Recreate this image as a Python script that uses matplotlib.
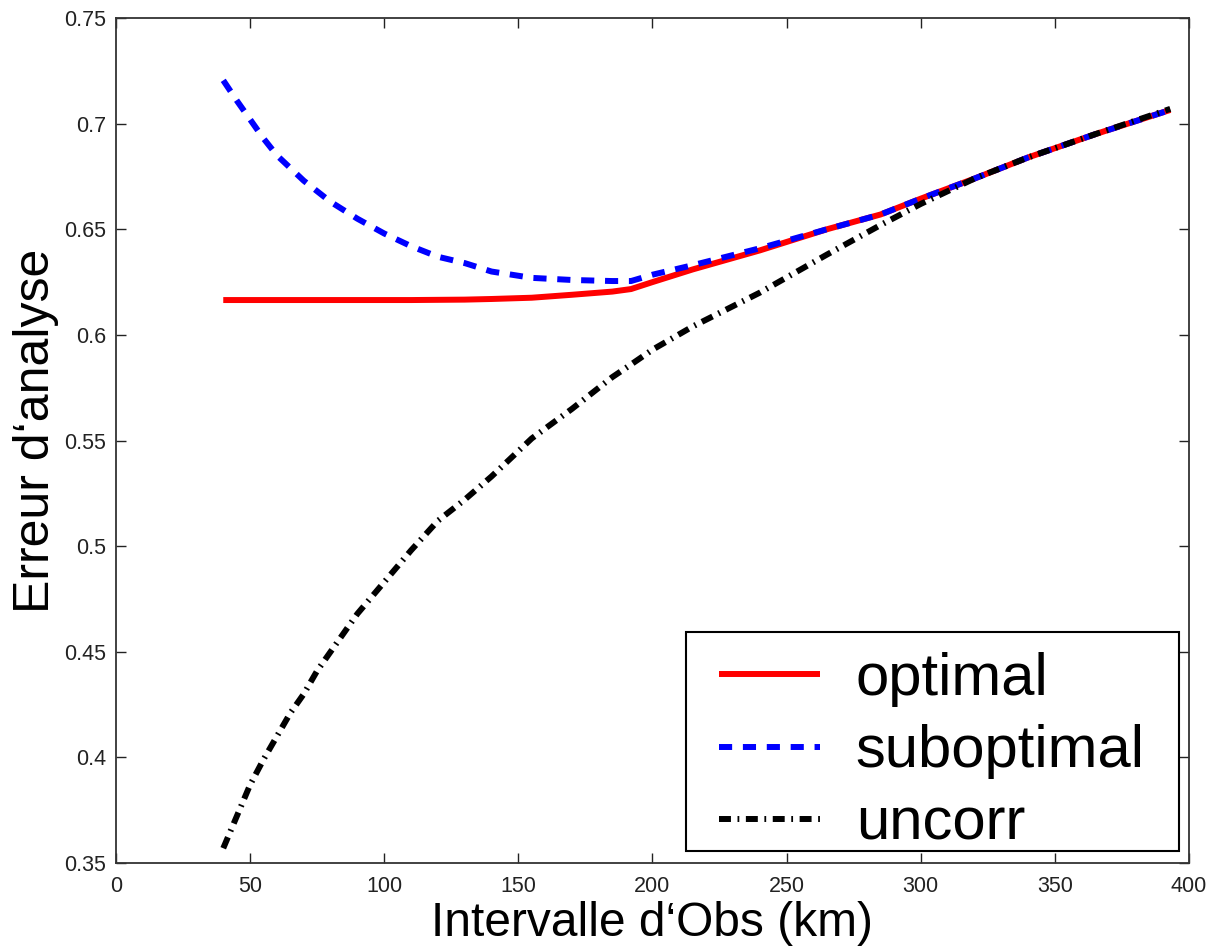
import matplotlib
matplotlib.use("Agg")
import matplotlib.pyplot as plt
from matplotlib.patches import Rectangle

plt.rcParams['font.family'] = ['Liberation Sans', 'DejaVu Sans']

x_km = [40, 45, 50, 55, 60, 65, 70, 75, 80, 90, 100, 110, 120, 130, 140, 155,
        170, 185, 192, 200, 215, 240, 265, 285, 300, 320, 340, 365, 393]

optimal = [0.6165, 0.6165, 0.6165, 0.6165, 0.6165, 0.6165, 0.6165, 0.6165, 0.6165,
           0.6165, 0.6165, 0.6165, 0.6166, 0.6167, 0.6170, 0.6176, 0.6190, 0.6205,
           0.6217, 0.6250, 0.6310, 0.6400, 0.6500, 0.6570, 0.6645, 0.6740, 0.6840,
           0.6950, 0.7065]

suboptimal = [0.7205, 0.7110, 0.7020, 0.6930, 0.6850, 0.6790, 0.6730, 0.6680, 0.6630,
              0.6550, 0.6480, 0.6420, 0.6370, 0.6340, 0.6300, 0.6270, 0.6260, 0.6255,
              0.6255, 0.6285, 0.6330, 0.6410, 0.6500, 0.6570, 0.6645, 0.6740, 0.6840,
              0.6950, 0.7065]

uncorr = [0.357, 0.372, 0.387, 0.399, 0.410, 0.421, 0.430, 0.441, 0.450, 0.468,
          0.483, 0.498, 0.512, 0.522, 0.533, 0.551, 0.565, 0.580, 0.586, 0.593,
          0.604, 0.620, 0.638, 0.652, 0.662, 0.674, 0.684, 0.695, 0.707]

labels = ['optimal', 'suboptimal', 'uncorr']
xticks = [0, 50, 100, 150, 200, 250, 300, 350, 400]
yticks = [0.35, 0.4, 0.45, 0.5, 0.55, 0.6, 0.65, 0.7, 0.75]
ytick_labels = ['0.35', '0.4', '0.45', '0.5', '0.55', '0.6', '0.65', '0.7', '0.75']

fig = plt.figure(figsize=(12.09, 9.49), dpi=100)
ax = fig.add_axes([0.0959, 0.0906, 0.8876, 0.8904])

lw = 4.3
ax.plot(x_km, optimal, color='#ff0000', lw=lw, label=labels[0], solid_capstyle='butt')
ax.plot(x_km, suboptimal, color='#0000ff', lw=lw, label=labels[1], dashes=(2.2, 1.8))
ax.plot(x_km, uncorr, color='black', lw=lw, label=labels[2], dashes=(2.0, 1.1, 0.3, 1.1))

ax.set_xlim(0, 400)
ax.set_ylim(0.35, 0.75)
ax.set_xticks(xticks)
ax.set_xticklabels([str(t) for t in xticks])
ax.set_yticks(yticks)
ax.set_yticklabels(ytick_labels)
ax.tick_params(direction='in', length=7, width=1, top=True, right=True,
               labelsize=15.5, colors='#222222')
ax.tick_params(axis='x', pad=9)
ax.tick_params(axis='y', pad=7)
for s in ax.spines.values():
    s.set_linewidth(1.3)
    s.set_color('#333333')

ax.set_xlabel('Intervalle d\u2018Obs (km)', fontsize=34.5, labelpad=3)
ax.set_ylabel('Erreur d\u2018analyse', fontsize=36, labelpad=4)
ax.yaxis.label.set_y(0.512)

# legend frame (drawn as a box in axes coordinates)
frame = Rectangle((0.5312, 0.0142), 0.9907 - 0.5312, 0.2734 - 0.0142,
                  transform=ax.transAxes, facecolor='white', edgecolor='black',
                  lw=1.5, zorder=4)
ax.add_patch(frame)
leg = ax.legend(loc='center', bbox_to_anchor=(0.7605, 0.1314), borderaxespad=0,
                fontsize=43, handlelength=1.69, handletextpad=0.59, labelspacing=0.29,
                borderpad=0.0, frameon=False)
leg.set_zorder(5)

fig.savefig('out.png', dpi=100)
